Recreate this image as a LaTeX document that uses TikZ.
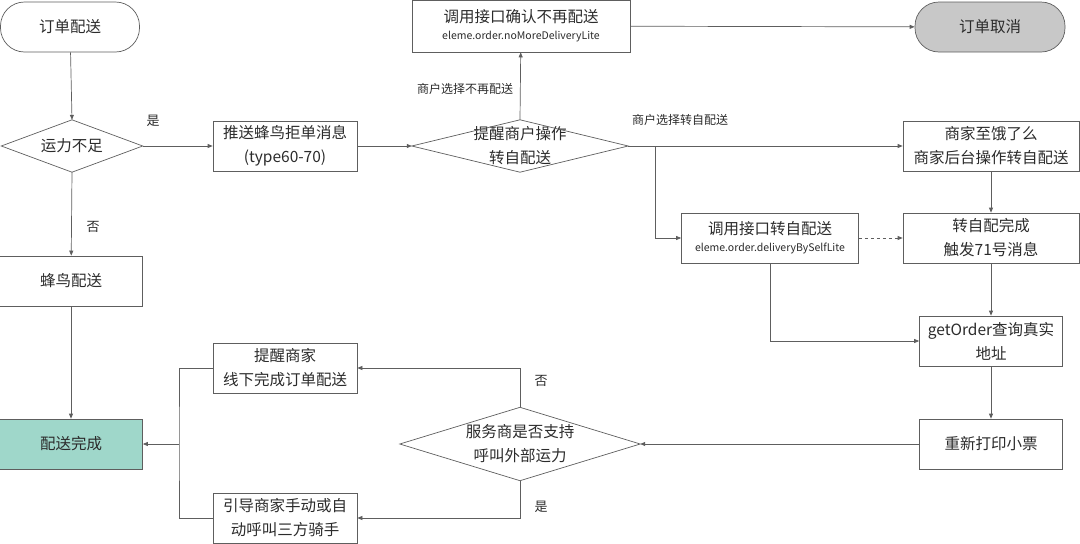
\documentclass[tikz,border=0pt]{standalone}
\usepackage{fontspec}
\setmainfont{Noto Sans CJK SC}
\usetikzlibrary{arrows.meta}
\definecolor{lncol}{HTML}{5E5E5E}
\definecolor{txcol}{HTML}{2B2B2B}
\definecolor{donecol}{HTML}{9FD7CA}
\definecolor{stopcol}{HTML}{C8C8C8}
\newcommand\apifont{\fontsize{10.5}{12}\selectfont}
\begin{document}
\begin{tikzpicture}[x=1pt,y=-1pt,
  every node/.style={font=\fontsize{15.5}{24}\selectfont, text=txcol, inner sep=0pt, align=center},
  box/.style={draw=lncol, line width=0.7pt, minimum width=#1, minimum height=50pt},
  term/.style={draw=lncol, line width=0.7pt, rounded corners=24pt, minimum width=#1, minimum height=50pt},
  dia/.style={minimum width=#1, minimum height=52pt},
  lbl/.style={font=\fontsize{13}{16}\selectfont},
  small/.style={font=\fontsize{12}{15}\selectfont},
  flow/.style={draw=lncol, line width=0.7pt, -{Triangle[length=5pt,width=4pt]}},
  plain/.style={draw=lncol, line width=0.7pt}]
  \useasboundingbox (0,0) rectangle (1080,544);
  % top row
  \node[term=139] (start) at (70,27) {订单配送};
  \node[box=218, minimum height=52pt] (nomore) at (521,26) {调用接口确认不再配送\\[-7pt]{\apifont eleme.order.noMoreDeliveryLite}};
  \node[term=150, fill=stopcol] (cancel) at (990,27) {订单取消};
  % second row
  \node[dia=141] (lack) at (72,146) {运力不足};
  \node[box=144] (push) at (285,146) {推送蜂鸟拒单消息\\(type60-70)};
  \node[dia=216] (remind) at (520,146) {提醒商户操作\\转自配送};
  \node[box=176] (shop) at (991,146) {商家至饿了么\\商家后台操作转自配送};
  % third row
  \node[box=143] (bird) at (71,281) {蜂鸟配送};
  \node[box=177] (selfapi) at (770,238) {调用接口转自配送\\[-7pt]{\apifont eleme.order.deliveryBySelfLite}};
  \node[box=176] (selfdone) at (991,238) {转自配完成\\触发71号消息};
  \node[box=143] (query) at (991,341) {getOrder查询真实\\地址};
  % bottom rows
  \node[box=144] (offline) at (285,368) {提醒商家\\线下完成订单配送};
  \node[box=143, fill=donecol] (done) at (71,444) {配送完成};
  \node[dia=240, minimum height=73pt] (svc) at (520,444) {服务商是否支持\\呼叫外部运力};
  \node[box=143] (reprint) at (991,444) {重新打印小票};
  \node[box=144] (rider) at (285,518) {引导商家手动或自\\动呼叫三方骑手};
  % diamond outlines
  \foreach \d in {lack,remind,svc}
    \draw[lncol, line width=0.7pt] (\d.west) -- (\d.north) -- (\d.east) -- (\d.south) -- cycle;
  % labels
  \node[lbl] (yes1) at (153,121) {是};
  \node[lbl] (no1) at (93,227) {否};
  \node[small] (optno) at (465,89) {商户选择不再配送};
  \node[small] (optself) at (680,120) {商户选择转自配送};
  \node[lbl] (no2) at (541,381) {否};
  \node[lbl] (yes2) at (541,507) {是};
  % connectors
  \coordinate (fork) at (655,146);
  \coordinate (join) at (179,444);
  \draw[flow] (start) -- (lack.north);
  \draw[flow] (lack.east) -- (push);
  \draw[flow] (lack.south) -- (bird);
  \draw[flow] (bird) -- (done);
  \draw[flow] (push) -- (remind.west);
  \draw[flow] (remind.north) -- (nomore);
  \draw[flow] (nomore) -- (cancel);
  \draw[flow] (remind.east) -- (shop);
  \draw[flow] (fork) |- (selfapi);
  \draw[flow] (shop) -- (selfdone);
  \draw[flow, dashed] (selfapi) -- (selfdone);
  \draw[flow] (selfdone) -- (query);
  \draw[flow] (selfapi.south) |- (query.west);
  \draw[flow] (query) -- (reprint);
  \draw[flow] (reprint) -- (svc.east);
  \draw[flow] (svc.north) |- (offline.east);
  \draw[flow] (svc.south) |- (rider.east);
  \draw[plain] (offline.west) -| (join) |- (rider.west);
  \draw[flow] (join) -- (done);
\end{tikzpicture}
\end{document}
